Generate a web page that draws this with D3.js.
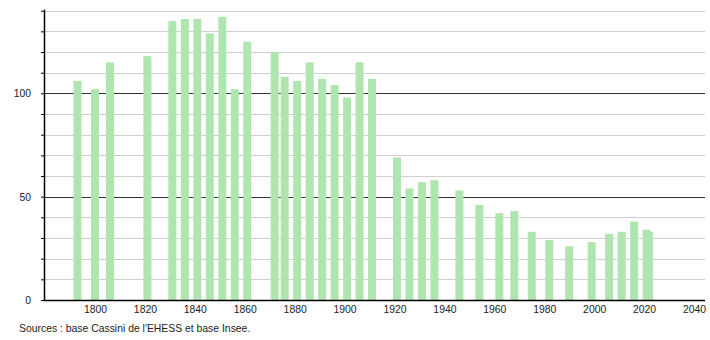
<!DOCTYPE html>
<html><head><meta charset="utf-8">
<script src="https://cdn.jsdelivr.net/npm/d3@7"></script>
<style>body{margin:0;background:#fff}svg{display:block;font-family:"Liberation Sans",Arial,sans-serif}</style>
</head><body><svg id="c" width="710" height="340"></svg>
<script>
const years = [1793,1800,1806,1821,1831,1836,1841,1846,1851,1856,1861,1872,1876,1881,1886,1891,1896,1901,1906,1911,1921,1926,1931,1936,1946,1954,1962,1968,1975,1982,1990,1999,2006,2011,2016,2021,2022];
const population = [106,102,115,118,135,136,136,129,137,102,125,120,108,106,115,107,104,98,115,107,69,54,57,58,53,46,42,43,33,29,26,28,32,33,38,34,33];
const xTicks = [1800,1820,1840,1860,1880,1900,1920,1940,1960,1980,2000,2020,2040];
const yLabels = [0,50,100];
const yGrid = [10,20,30,40,50,60,70,80,90,100,110,120,130,140];
const source = "Sources : base Cassini de l'EHESS et base Insee.";

const svg = d3.select("#c");
const mLeft = 44, mRight = 705, mTop = 10.7, mBottom = 300;
const x = d3.scaleLinear().domain([1800, 2040]).range([95, 694]);
const y = d3.scaleLinear().domain([0, 140]).range([mBottom, mTop]);
const fs = 10.4;

// grid
svg.append("g").selectAll("line").data(yGrid).join("line")
  .attr("x1", mLeft).attr("x2", mRight)
  .attr("y1", d => Math.round(y(d)) + 0.5).attr("y2", d => Math.round(y(d)) + 0.5)
  .attr("stroke", d => d % 50 === 0 ? "#333" : "#cfcfcf").attr("stroke-width", 1);

// bars
const bw = 8;
svg.append("g").selectAll("rect").data(years).join("rect")
  .attr("x", (d) => x(d) - bw / 2)
  .attr("width", bw)
  .attr("y", (d, i) => y(population[i]))
  .attr("height", (d, i) => mBottom - y(population[i]))
  .attr("fill", "#afe5af");

// y axis
const yAxis = d3.axisLeft(y).tickValues(yGrid.concat([0])).tickSize(3).tickFormat(d => yLabels.includes(d) ? d : "");
const gy = svg.append("g").attr("transform", `translate(${mLeft},0)`).call(yAxis);
gy.select(".domain").attr("stroke", "#000").attr("stroke-width", 1.5).attr("d", `M0.5,${mTop - 1}V${mBottom}`);
gy.selectAll(".tick line").attr("stroke", "#000");
gy.selectAll(".tick text").attr("x", -13).attr("font-size", fs).attr("fill", "#222").attr("font-family", "Liberation Sans, Arial, sans-serif");

// x axis
const xAxis = d3.axisBottom(x).tickValues(xTicks).tickSize(0).tickFormat(d3.format("d"));
const gx = svg.append("g").attr("transform", `translate(0,${mBottom})`).call(xAxis);
gx.select(".domain").attr("stroke", "#000").attr("stroke-width", 1.5).attr("d", `M${mLeft},0.5H${mRight}`);
gx.selectAll(".tick text").attr("y", 6).attr("font-size", fs).attr("fill", "#222").attr("font-family", "Liberation Sans, Arial, sans-serif");

svg.append("text").attr("x", 19).attr("y", 332).attr("font-size", fs).attr("fill", "#222").text(source);
</script></body></html>
